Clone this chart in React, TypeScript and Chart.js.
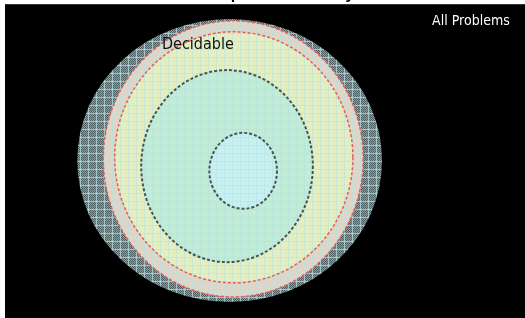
import { useEffect, useRef } from "react";
import { Chart, registerables } from "chart.js";

Chart.register(...registerables);

// Nested regions (outermost first), in data units of a 0..100 x 0..100 plane
const regionNames = ["Outer band", "Decidable", "Inner band", "Middle", "Core"];
const centerX = [43.2, 43.9, 44.0, 42.7, 45.8];
const centerY = [50.2, 50.7, 51.2, 48.4, 46.9];
const radiusX = [29.3, 25.0, 22.9, 16.5, 6.5];
const radiusY = [45.1, 44.0, 40.0, 30.6, 12.1];

// Text labels
const labelTexts = ["Decidable", "All Problems"];
const labelX = [37.1, 89.6];
const labelY = [87.0, 94.6];

const chartTitle = "The Map of Decidability";

const fillBases = ["#4c5e60", "#dcd7c8", "#e3efc1", "#c1ecd5", "#c6eff0"];
const dithers = [true, false, false, false, false];
const edgeColors = [null, "#e45c5c", "#e45c5c", "#485254", "#485254"];
const edgeWidths = [0, 1.5, 1.5, 2, 2];

function makePattern(ctx: CanvasRenderingContext2D, base: string, dither: boolean) {
  const c = document.createElement("canvas");
  c.width = 8;
  c.height = 8;
  const p = c.getContext("2d")!;
  p.fillStyle = base;
  p.fillRect(0, 0, 8, 8);
  if (dither) {
    p.fillStyle = "#8aa0a3";
    for (let i = 0; i < 8; i++) {
      for (let j = 0; j < 8; j++) {
        if ((i + j) % 2 === 0) p.fillRect(i, j, 1, 1);
      }
    }
  }
  p.fillStyle = dither ? "rgba(170,212,218,0.85)" : "rgba(180,224,232,0.55)";
  p.fillRect(0, 0, 8, 1);
  p.fillRect(0, 0, 1, 8);
  return ctx.createPattern(c, "repeat")!;
}

const backgroundPlugin = {
  id: "bgPlugin",
  beforeDraw(chart: any) {
    const { ctx, chartArea } = chart;
    ctx.save();
    ctx.fillStyle = "#ffffff";
    ctx.fillRect(0, 0, chart.width, chart.height);
    ctx.fillStyle = "#000000";
    ctx.fillRect(chartArea.left, chartArea.top, chartArea.right - chartArea.left, chartArea.bottom - chartArea.top);
    ctx.restore();
  },
};

const ellipsePlugin = {
  id: "ellipsePlugin",
  beforeDatasetsDraw(chart: any) {
    const { ctx, chartArea } = chart;
    const xs = chart.scales.x;
    const ys = chart.scales.y;
    ctx.save();
    ctx.beginPath();
    ctx.rect(chartArea.left, chartArea.top, chartArea.right - chartArea.left, chartArea.bottom - chartArea.top);
    ctx.clip();
    chart.data.datasets.forEach((ds: any, i: number) => {
      const meta = chart.getDatasetMeta(i);
      const pt = meta.data[0];
      const raw = ds.data[0];
      const rxp = Math.abs(xs.getPixelForValue(raw.x + raw.rx) - xs.getPixelForValue(raw.x));
      const ryp = Math.abs(ys.getPixelForValue(raw.y + raw.ry) - ys.getPixelForValue(raw.y));
      ctx.beginPath();
      ctx.ellipse(pt.x, pt.y, rxp, ryp, 0, 0, Math.PI * 2);
      ctx.fillStyle = makePattern(ctx, ds.fillBase, ds.dither);
      ctx.fill();
      if (ds.edgeColor) {
        ctx.setLineDash([3, 2]);
        ctx.lineWidth = ds.edgeWidth;
        ctx.strokeStyle = ds.edgeColor;
        ctx.stroke();
        ctx.setLineDash([]);
      }
    });
    ctx.restore();
  },
  afterDatasetsDraw(chart: any) {
    const { ctx } = chart;
    const xs = chart.scales.x;
    const ys = chart.scales.y;
    ctx.save();
    ctx.textAlign = "center";
    ctx.textBaseline = "middle";
    labelTexts.forEach((t, i) => {
      const big = i === 0;
      ctx.font = `${big ? 16 : 14}px 'DejaVu Sans Condensed', 'DejaVu Sans', sans-serif`;
      ctx.fillStyle = big ? "#111111" : "#ffffff";
      ctx.fillText(t, xs.getPixelForValue(labelX[i]), ys.getPixelForValue(labelY[i]));
    });
    ctx.restore();
  },
};

export default function App() {
  const ref = useRef<HTMLCanvasElement>(null);
  useEffect(() => {
    if (!ref.current) return;
    const datasets = regionNames.map((name, i) => ({
      label: name,
      data: [{ x: centerX[i], y: centerY[i], rx: radiusX[i], ry: radiusY[i] }],
      pointRadius: 0,
      pointHoverRadius: 0,
      fillBase: fillBases[i],
      dither: dithers[i],
      edgeColor: edgeColors[i],
      edgeWidth: edgeWidths[i],
    }));
    const chart = new Chart(ref.current, {
      type: "scatter",
      data: { datasets: datasets as any },
      options: {
        responsive: false,
        animation: false,
        events: [],
        layout: { padding: { left: 5, top: 0, right: 0, bottom: 0 } },
        scales: {
          x: { type: "linear", min: 0, max: 100, display: false },
          y: { type: "linear", min: 0, max: 100, display: false },
        },
        plugins: {
          legend: { display: false },
          tooltip: { enabled: false },
          title: {
            display: true,
            text: chartTitle,
            color: "#000000",
            padding: 0,
            font: { family: "'Liberation Sans', Arial, sans-serif", size: 16, weight: "bold", lineHeight: 1.2 },
          },
        },
      },
      plugins: [backgroundPlugin, ellipsePlugin],
    });
    return () => chart.destroy();
  }, []);
  return (
    <div style={{ position: "fixed", left: 0, top: -15, width: 525, height: 333 }}>
      <canvas ref={ref} width={525} height={333} style={{ display: "block" }} />
    </div>
  );
}
